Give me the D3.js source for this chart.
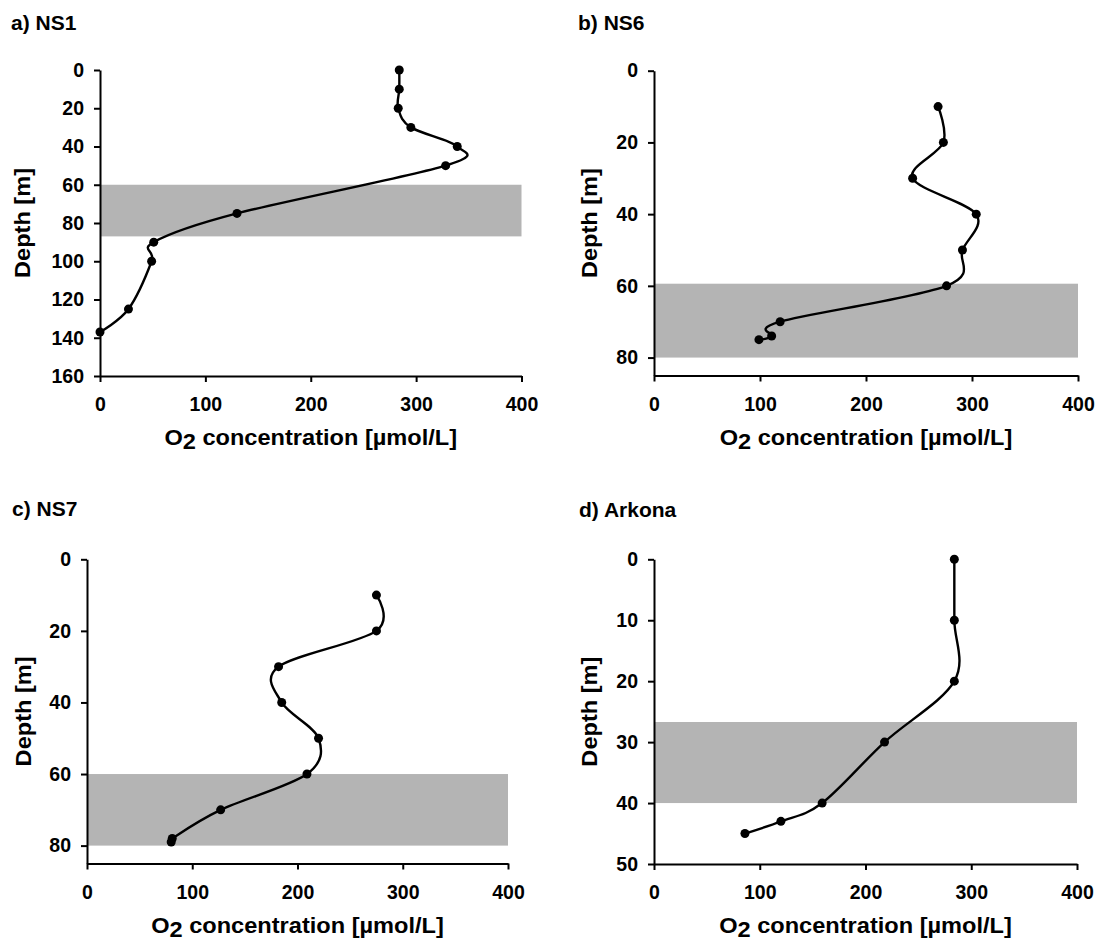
<!DOCTYPE html>
<html>
<head>
<meta charset="utf-8">
<script src="https://cdn.jsdelivr.net/npm/d3@7"></script>
<style>
  body { margin: 0; background: #fff; }
  text { font-family: "Liberation Sans", Arial, sans-serif; font-weight: bold; fill: #000; }
</style>
</head>
<body>
<svg id="chart" width="1099" height="942"></svg>
<script>
// ---- data ----
const ns1Depth = [0, 10, 20, 30, 40, 50, 75, 90, 100, 125, 137];
const ns1O2 = [284, 284, 283, 295, 339, 328, 130, 51, 49, 27, 0];

const ns6Depth = [10, 20, 30, 40, 50, 60, 70, 74, 75];
const ns6O2 = [268, 273, 244, 304, 291, 276, 119, 111, 99];

const ns7Depth = [10, 20, 30, 40, 50, 60, 70, 78, 79];
const ns7O2 = [275, 275, 182, 185, 220, 209, 127, 81, 80];

const arkonaDepth = [0, 10, 20, 30, 40, 43, 45];
const arkonaO2 = [284, 284, 284, 218, 159, 120, 86];

const titles = ['a) NS1', 'b) NS6', 'c) NS7', 'd) Arkona'];
const depthTicks = [
    [0, 20, 40, 60, 80, 100, 120, 140, 160],
    [0, 20, 40, 60, 80],
    [0, 20, 40, 60, 80],
    [0, 10, 20, 30, 40, 50]
];
const depthMax = [160, 85, 85, 50];
const o2Ticks = [0, 100, 200, 300, 400];
// grey depth band per station
const bandTop = [60, 59.4, 60, 26.7];
const bandBottom = [87, 80, 80, 40];

// ---- layout ----
const panels = [
    { depth: ns1Depth, o2: ns1O2, left: 100, right: 521.5, top: 70, bottom: 376, tx: 11, ty: 30, ytx: 30 },
    { depth: ns6Depth, o2: ns6O2, left: 654, right: 1078, top: 70.7, bottom: 375.5, tx: 578, ty: 30, ytx: 597 },
    { depth: ns7Depth, o2: ns7O2, left: 87, right: 508, top: 559.3, bottom: 863.5, tx: 12, ty: 516, ytx: 31 },
    { depth: arkonaDepth, o2: arkonaO2, left: 654, right: 1077, top: 559.3, bottom: 864, tx: 579, ty: 517, ytx: 597 }
];

const svg = d3.select('#chart');

panels.forEach((p, i) => {
    const x = d3.scaleLinear().domain([0, 400]).range([p.left, p.right]);
    const y = d3.scaleLinear().domain([0, depthMax[i]]).range([p.top, p.bottom]);
    const g = svg.append('g');

    // band
    g.append('rect')
        .attr('x', x(0))
        .attr('y', y(bandTop[i]))
        .attr('width', x(400) - x(0))
        .attr('height', y(bandBottom[i]) - y(bandTop[i]))
        .attr('fill', '#b4b4b4');

    // axes
    const yAxis = g.append('g')
        .attr('transform', `translate(${p.left},0)`)
        .call(d3.axisLeft(y).tickValues(depthTicks[i]).tickSize(6).tickSizeOuter(0).tickPadding(10));
    const xAxis = g.append('g')
        .attr('transform', `translate(0,${p.bottom})`)
        .call(d3.axisBottom(x).tickValues(o2Ticks).tickSize(6).tickSizeOuter(0).tickPadding(15.5));

    [yAxis, xAxis].forEach(ax => {
        ax.select('.domain').attr('stroke', '#000').attr('stroke-width', 2);
        ax.selectAll('.tick line').attr('stroke', '#000').attr('stroke-width', 2);
        ax.selectAll('.tick text')
            .attr('fill', '#000')
            .attr('font-size', 19.5)
            .attr('font-family', '"Liberation Sans", Arial, sans-serif')
            .attr('font-weight', 'bold');
    });

    // profile
    const pts = p.depth.map((d, j) => ({ depth: d, o2: p.o2[j] }));
    const line = d3.line()
        .x(d => x(d.o2))
        .y(d => y(d.depth))
        .curve(d3.curveCatmullRom.alpha(0));

    g.append('path')
        .datum(pts)
        .attr('d', line)
        .attr('fill', 'none')
        .attr('stroke', '#000')
        .attr('stroke-width', 2.4);

    g.selectAll('circle.pt')
        .data(pts)
        .join('circle')
        .attr('class', 'pt')
        .attr('cx', d => x(d.o2))
        .attr('cy', d => y(d.depth))
        .attr('r', 4.5)
        .attr('fill', '#000');

    // panel title
    g.append('text')
        .attr('x', p.tx)
        .attr('y', p.ty)
        .attr('font-size', 21)
        .text(titles[i]);

    // x title with subscript
    const cx = (p.left + p.right) / 2;
    const xt = g.append('text')
        .attr('text-anchor', 'middle')
        .attr('font-size', 22);
    xt.append('tspan').text('O');
    xt.append('tspan').attr('dy', 4).text('2');
    xt.append('tspan').attr('dy', -4).text(' concentration [µmol/L]');
    const xw = xt.node().getComputedTextLength();
    xt.attr('transform', `translate(${cx},${p.bottom + 69}) scale(${293 / xw},1)`);

    // y title
    const cy = (p.top + p.bottom) / 2;
    const yt = g.append('text')
        .attr('text-anchor', 'middle')
        .attr('font-size', 22)
        .text('Depth [m]');
    const yw = yt.node().getComputedTextLength();
    yt.attr('transform', `translate(${p.ytx},${cy}) rotate(-90) scale(${110 / yw},1)`);
});
</script>
</body>
</html>
